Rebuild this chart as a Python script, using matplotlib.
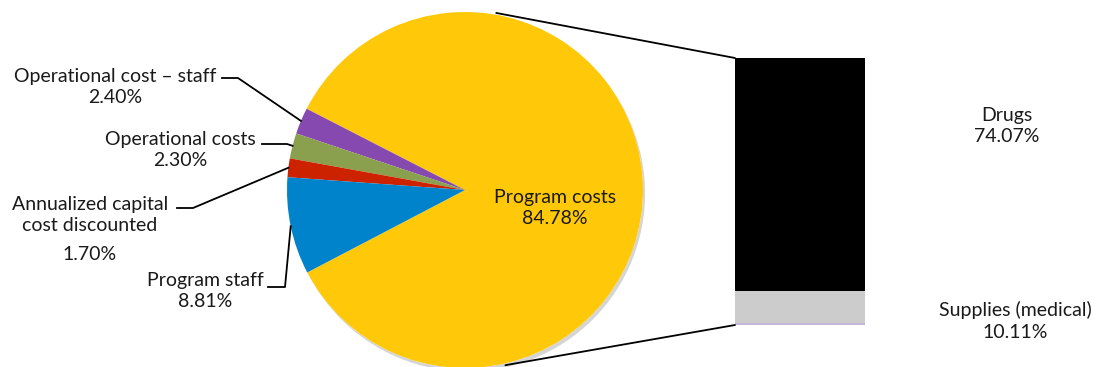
import numpy as np
import matplotlib
matplotlib.use("Agg")
import matplotlib.pyplot as plt
from matplotlib.patches import ConnectionPatch, Rectangle
from matplotlib.lines import Line2D
import matplotlib.patheffects as pe

# ---- data ----
pie_labels = ["Program costs", "Operational cost \u2013 staff", "Operational costs",
              "Annualized capital\ncost discounted", "Program staff"]
pie_values = [84.78, 2.40, 2.30, 1.70, 8.81]
pie_pct = ["84.78%", "2.40%", "2.30%", "1.70%", "8.81%"]
pie_colors = ["#FFC90A", "#8649B0", "#8BA04E", "#CC2200", "#0083CA"]

bar_labels = ["Other", "Supplies (medical)", "Drugs"]
bar_values = [0.60, 10.11, 74.07]
bar_pct = ["", "10.11%", "74.07%"]
bar_colors = ["#C6B4D8", "#CCCCCC", "#000000"]

W, H = 1096, 367
plt.rcParams['font.family'] = ['Lato', 'DejaVu Sans']
FS = 14

fig = plt.figure(figsize=(W / 100, H / 100), dpi=100)

def fx(px):
    return px / W

def fy(py):
    return 1 - py / H

shadow = [pe.SimplePatchShadow(offset=(1.5, -2.5), shadow_rgbFace='#888888', alpha=0.35), pe.Normal()]

# pie axes: centre (465,190) px, radius 178 px
cx, cy, R = 465, 190, 178
axp = fig.add_axes([fx(cx - R), fy(cy + R), 2 * R / W, 2 * R / H])
# background disc carrying the soft shadow
bg, _ = axp.pie([1], colors=['white'], radius=1.0, wedgeprops=dict(linewidth=0))
bg[0].set_path_effects(shadow)
wedges, _ = axp.pie(pie_values, colors=pie_colors, startangle=207.6, counterclock=True,
                    radius=1.0, wedgeprops=dict(linewidth=0))
axp.set_xlim(-1, 1)
axp.set_ylim(-1, 1)
axp.set_aspect('equal')
axp.axis('off')

# bar axes
bx0, bx1, by0, by1 = 735, 865, 58, 325
axb = fig.add_axes([fx(bx0), fy(by1), (bx1 - bx0) / W, (by1 - by0) / H])
total = sum(bar_values)
bgb = axb.bar([0], [total], width=1.0, color='white', linewidth=0)
bgb[0].set_path_effects(shadow)
bottom = 0
for v, c in zip(bar_values, bar_colors):
    axb.bar([0], [v], bottom=bottom, width=1.0, color=c, linewidth=0)
    bottom += v
axb.set_xlim(-0.5, 0.5)
axb.set_ylim(0, bottom)
axb.axis('off')

# connector lines pie -> bar
for ang, yb in [(80.0, bottom), (-77.0, 0)]:
    t = np.deg2rad(ang)
    con = ConnectionPatch(xyA=(np.cos(t) * 1.01, np.sin(t) * 1.01), coordsA=axp.transData,
                          xyB=(-0.5, yb), coordsB=axb.transData, color='black', lw=1.3)
    fig.add_artist(con)

def mid_angle(w):
    return np.deg2rad((w.theta1 + w.theta2) / 2)

def pie_edge_px(w):
    a = mid_angle(w)
    return cx + R * np.cos(a), cy - R * np.sin(a)

def text_px(x, y, s, **kw):
    fig.text(fx(x), fy(y), s, ha='center', va='center', fontsize=FS, color='#1a1a1a', **kw)

def leader(pts):
    xs = [fx(p[0]) for p in pts]
    ys = [fy(p[1]) for p in pts]
    fig.add_artist(Line2D(xs, ys, color='black', lw=1.3, transform=fig.transFigure))

# Program costs (inside)
text_px(555, 208, pie_labels[0] + "\n" + pie_pct[0], linespacing=1.3)

# Operational cost - staff
text_px(115, 87, pie_labels[1] + "\n" + pie_pct[1], linespacing=1.3)
leader([(222, 78), (238, 78), pie_edge_px(wedges[1])])

# Operational costs
text_px(180, 150, pie_labels[2] + "\n" + pie_pct[2], linespacing=1.3)
leader([(262, 144), (287, 144), pie_edge_px(wedges[2])])

# Annualized capital cost discounted
text_px(90, 215, pie_labels[3], linespacing=1.3)
text_px(90, 255, pie_pct[3])
leader([(177, 208), (193, 208), pie_edge_px(wedges[3])])

# Program staff
text_px(205, 291, pie_labels[4] + "\n" + pie_pct[4], linespacing=1.3)
leader([(268, 287), (285, 287), pie_edge_px(wedges[4])])

# bar labels
text_px(1007, 126, bar_labels[2] + "\n" + bar_pct[2], linespacing=1.3)
text_px(1015, 321, bar_labels[1] + "\n" + bar_pct[1], linespacing=1.3)

fig.savefig("out.png", dpi=100, facecolor='white')
